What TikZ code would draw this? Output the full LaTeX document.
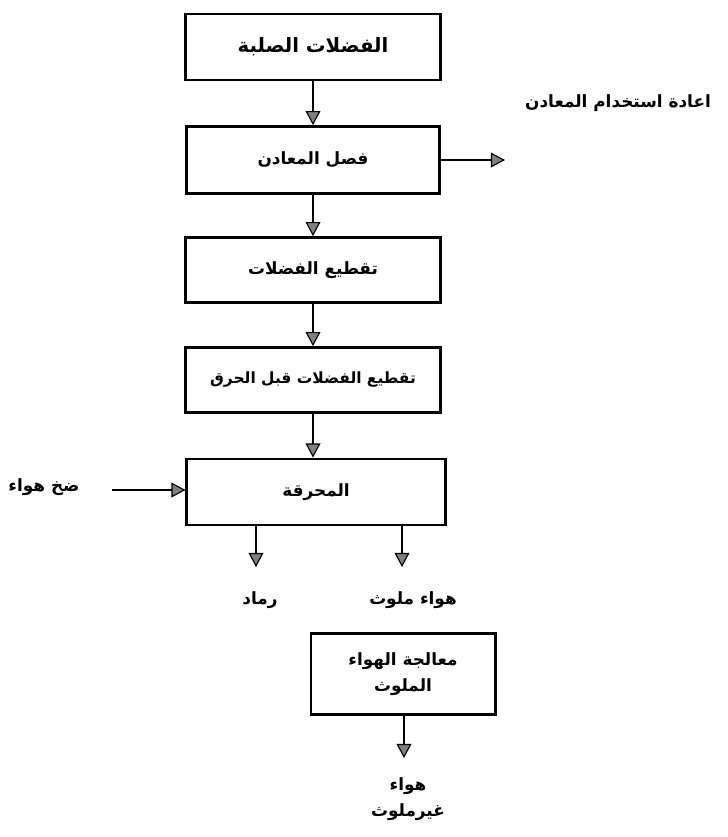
\documentclass[tikz,border=0pt]{standalone}
\usepackage{fontspec}
\newfontfamily\arabicfont[Script=Arabic]{DejaVu Sans}
\TeXXeTstate=1
\usetikzlibrary{arrows.meta}

\begin{document}
\begin{tikzpicture}[x=0.025cm,y=-0.025cm,
  every path/.style={>={Triangle[length=10pt,width=10.5pt,line width=0.8pt,fill=gray]}},
  stagebox/.style={draw,rectangle,line width=2.1pt,inner sep=2pt,align=center,
                   font=\arabicfont\bfseries\fontsize{12}{19}\selectfont},
  flowtext/.style={align=center,font=\arabicfont\bfseries\fontsize{12}{18}\selectfont},
  flow/.style={->,line width=2pt}]
\useasboundingbox (0,0) rectangle (728,837);
\node[stagebox,minimum width=6.35cm,minimum height=1.65cm,font=\arabicfont\bfseries\fontsize{14}{20}\selectfont]
                                                            (waste)  at (313,47)  {\beginR الفضلات الصلبة\endR};
\node[stagebox,minimum width=6.3cm,minimum height=1.67cm]   (metal)  at (313,160) {\beginR فصل المعادن\endR};
\node[stagebox,minimum width=6.35cm,minimum height=1.62cm]  (cut)    at (313,270) {\beginR تقطيع الفضلات\endR};
\node[stagebox,minimum width=6.35cm,minimum height=1.62cm,font=\arabicfont\bfseries\fontsize{11}{19}\selectfont]
                                                            (precut) at (313,380) {\beginR تقطيع الفضلات قبل الحرق\endR};
\node[stagebox,minimum width=6.45cm,minimum height=1.65cm]  (burner) at (316,492) {\beginR المحرقة\endR};
\node[stagebox,minimum width=4.6cm,minimum height=2.02cm]   (treat)  at (403,674) {\beginR معالجة الهواء\endR\\\beginR الملوث\endR};
\node[flowtext] (reuse) at (618,103) {\beginR اعادة استخدام المعادن\endR};
\node[flowtext] (airin) at (44,487)  {\beginR ضخ هواء\endR};
\node[flowtext] (ash)   at (260,600) {\beginR رماد\endR};
\node[flowtext] (dirty) at (413,600) {\beginR هواء ملوث\endR};
\node[flowtext] (clean) at (408,799) {\beginR هواء\endR\\\beginR غيرملوث\endR};
\coordinate (reuseend) at (505,161);
\coordinate (airstart) at (112,490);
\coordinate (ashend)   at (256,567);
\coordinate (dirtyend) at (402,567);
\coordinate (cleanend) at (404,758);
\draw[flow] (waste)  -- (metal);
\draw[flow] (metal)  -- (cut);
\draw[flow] (cut)    -- (precut);
\draw[flow] (precut.south) -- (precut.south |- burner.north);
\draw[flow] (metal.east) -- (metal.east -| reuseend);
\draw[flow] (airstart) -- (airstart -| burner.west);
\draw[flow] (ashend |- burner.south) -- (ashend);
\draw[flow] (dirtyend |- burner.south) -- (dirtyend);
\draw[flow] (treat.south -| cleanend) -- (cleanend);
\end{tikzpicture}
\end{document}
